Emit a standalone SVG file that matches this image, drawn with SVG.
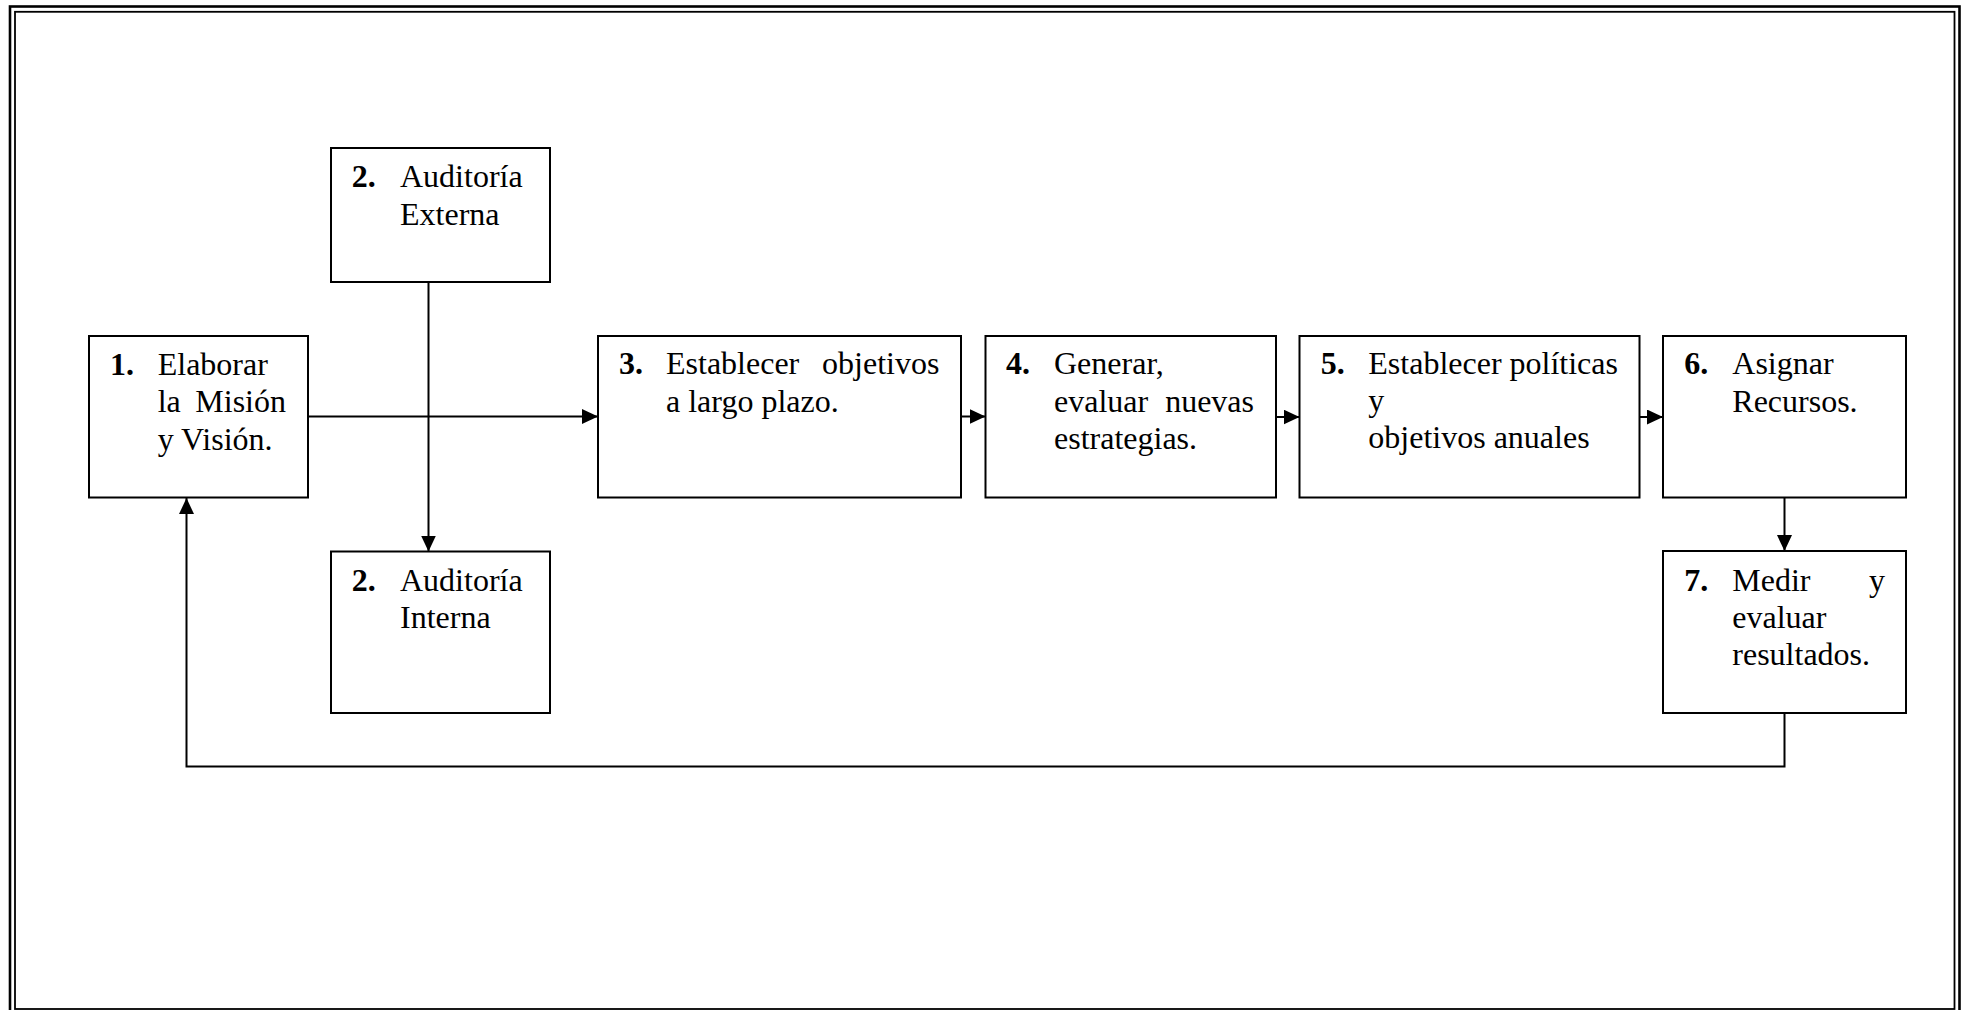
<svg xmlns="http://www.w3.org/2000/svg" width="1966" height="1010" viewBox="0 0 1966 1010">
<style>
.box{fill:#fff;stroke:#000;stroke-width:2}
.t{font-family:"Liberation Serif","Times New Roman",serif;font-size:32px;fill:#000}
.n{font-weight:bold}
.e{text-anchor:end}
.c{fill:none;stroke:#000;stroke-width:2}
</style>
<defs>
<marker id="ah" markerUnits="userSpaceOnUse" markerWidth="16" markerHeight="15" viewBox="0 0 16 15" refX="16" refY="7.5" orient="auto">
<path d="M0,0 L16,7.5 L0,15 z" fill="#000"/>
</marker>
</defs>
<rect width="1966" height="1010" fill="#fff"/>
<g id="page-border">
<rect x="10" y="6.5" width="1949.5" height="1020" fill="none" stroke="#000" stroke-width="2.6"/>
<rect x="15" y="11.8" width="1939.5" height="997.2" fill="none" stroke="#000" stroke-width="1.8"/>
</g>
<g id="connectors">
<path class="c" d="M308,416.5 H598" marker-end="url(#ah)"/>
<path class="c" d="M428.5,282 V551.5" marker-end="url(#ah)"/>
<path class="c" d="M961,416.5 H985.5" marker-end="url(#ah)"/>
<path class="c" d="M1276,417 H1299.5" marker-end="url(#ah)"/>
<path class="c" d="M1639.5,417 H1663" marker-end="url(#ah)"/>
<path class="c" d="M1784.5,497.5 V551" marker-end="url(#ah)"/>
<path class="c" d="M1784.5,713 V766.5 H186.5 V498" marker-end="url(#ah)"/>
</g>
<g id="node1">
<rect class="box" x="89" y="336" width="219" height="161.5"/>
<text class="t n" x="110" y="375">1.</text>
<text class="t" x="157.7" y="375">Elaborar</text>
<text class="t" x="157.7" y="412">la</text>
<text class="t e" x="286" y="412">Misión</text>
<text class="t" x="157.7" y="449.5">y Visión.</text>
</g>
<g id="node2-externa">
<rect class="box" x="331" y="148" width="219" height="134"/>
<text class="t n" x="351.7" y="186.7">2.</text>
<text class="t" x="400" y="186.7">Auditoría</text>
<text class="t" x="400" y="225">Externa</text>
</g>
<g id="node2-interna">
<rect class="box" x="331" y="551.5" width="219" height="161.5"/>
<text class="t n" x="351.7" y="590.7">2.</text>
<text class="t" x="400" y="590.7">Auditoría</text>
<text class="t" x="400" y="628.3">Interna</text>
</g>
<g id="node3">
<rect class="box" x="598" y="336" width="363" height="161.5"/>
<text class="t n" x="619" y="374.3">3.</text>
<text class="t" x="666" y="374.3">Establecer</text>
<text class="t e" x="939.4" y="374.3">objetivos</text>
<text class="t" x="666" y="412">a largo plazo.</text>
</g>
<g id="node4">
<rect class="box" x="985.5" y="336" width="290.5" height="161.5"/>
<text class="t n" x="1006" y="373.8">4.</text>
<text class="t" x="1054" y="373.8">Generar,</text>
<text class="t" x="1054" y="411.7">evaluar</text>
<text class="t e" x="1254" y="411.7">nuevas</text>
<text class="t" x="1054" y="448.5">estrategias.</text>
</g>
<g id="node5">
<rect class="box" x="1299.5" y="336" width="340" height="161.5"/>
<text class="t n" x="1320.7" y="374">5.</text>
<text class="t" x="1368.3" y="374">Establecer políticas</text>
<text class="t" x="1368.3" y="411">y</text>
<text class="t" x="1368.3" y="448.3">objetivos anuales</text>
</g>
<g id="node6">
<rect class="box" x="1663" y="336" width="243" height="161.5"/>
<text class="t n" x="1684.3" y="374">6.</text>
<text class="t" x="1732.3" y="374">Asignar</text>
<text class="t" x="1732.3" y="412">Recursos.</text>
</g>
<g id="node7">
<rect class="box" x="1663" y="551" width="243" height="162"/>
<text class="t n" x="1684.3" y="590.7">7.</text>
<text class="t" x="1732.3" y="590.7">Medir</text>
<text class="t e" x="1885" y="590.7">y</text>
<text class="t" x="1732.3" y="628">evaluar</text>
<text class="t" x="1732.3" y="665">resultados.</text>
</g>
</svg>
